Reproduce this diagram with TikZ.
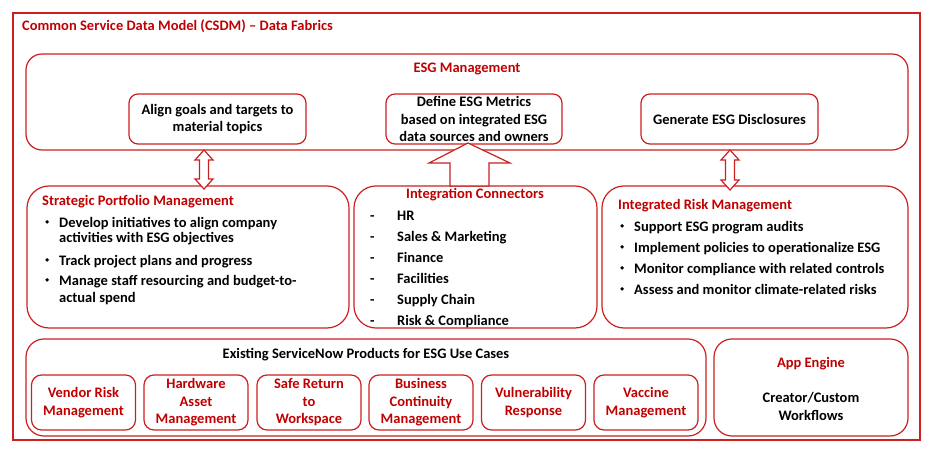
\documentclass[tikz,border=0pt]{standalone}
\usepackage{fontspec}
\setmainfont{Carlito}
\definecolor{cred}{RGB}{192,0,0}
\definecolor{bred}{RGB}{204,32,32}
\newcommand\smbul{\raisebox{0.45ex}{\tikz\fill (0,0) circle (1.9pt);}}
\begin{document}
\begin{tikzpicture}[x=1pt,y=-1pt,
  font=\fontsize{14.5}{17.5}\selectfont\bfseries,
  box/.style={draw=bred, line width=1.2pt, rounded corners=#1, inner sep=0pt, align=center},
  sbox/.style={box=10pt, minimum width=104pt, minimum height=55pt, text=cred},
  rtitle/.style={text=cred, inner sep=0pt},
  txt/.style={inner sep=0pt, anchor=base west},
  barrow/.style={draw=bred, line width=1.2pt, fill=white, line join=miter}]
\useasboundingbox (0,0) rectangle (934,457);
% outer frame
\node[draw=bred, line width=1.2pt, minimum width=907pt, minimum height=427pt, inner sep=0pt] (frame) at (466.5,226.5) {};
\node[rtitle, anchor=base west] (ftitle) at (22,31) {Common Service Data Model (CSDM) -- Data Fabrics};
% ESG management
\node[box=16pt, minimum width=882pt, minimum height=96pt] (esg) at (467,102) {};
\node[rtitle, anchor=base] (esgt) at (467,73) {ESG Management};
\node[box=9pt, minimum width=177pt, minimum height=50pt] (align) at (217.5,119) {Align goals and targets to\\material topics};
\node[box=9pt, minimum width=176pt, minimum height=50pt] (define) at (474,119) {Define ESG Metrics\\based on integrated ESG\\data sources and owners};
\node[box=9pt, minimum width=177pt, minimum height=50pt] (gen) at (729.5,119) {Generate ESG Disclosures};
% middle row
\node[box=22pt, minimum width=322pt, minimum height=142pt] (spm) at (188,257) {};
\node[box=22pt, minimum width=243pt, minimum height=142pt] (ic) at (475.5,257) {};
\node[box=22pt, minimum width=306pt, minimum height=142pt] (irm) at (755,257) {};
% SPM text
\node[rtitle, anchor=base west] (spmt) at (42,205) {Strategic Portfolio Management};
\foreach \y/\t [count=\i] in {227/Develop initiatives to align company, 265/Track project plans and progress, 285/Manage staff resourcing and budget-to-}
  {\node[txt] (spmb\i) at (45,\y) {\smbul}; \node[txt] (spml\i) at (59,\y) {\t};}
\node[txt] (spmc1) at (59,243) {activities with ESG objectives};
\node[txt] (spmc2) at (59,302) {actual spend};
% IC text
\node[rtitle, anchor=base] (ict) at (475,199) {Integration Connectors};
\foreach \y/\t [count=\i] in {220/HR, 241/Sales \& Marketing, 262/Finance, 283/Facilities, 304/Supply Chain, 325/Risk \& Compliance}
  {\node[txt] (icd\i) at (370,\y) {-}; \node[txt] (icl\i) at (397,\y) {\t};}
% IRM text
\node[rtitle, anchor=base west] (irmt) at (618,210) {Integrated Risk Management};
\foreach \y/\t [count=\i] in {231/Support ESG program audits, 252/Implement policies to operationalize ESG, 273/Monitor compliance with related controls, 294/Assess and monitor climate-related risks}
  {\node[txt] (irmb\i) at (620,\y) {\smbul}; \node[txt] (irml\i) at (634,\y) {\t};}
% bottom row
\node[box=18pt, minimum width=680pt, minimum height=97pt] (exist) at (366,387.5) {};
\node[inner sep=0pt, anchor=base] (existt) at (366,358) {Existing ServiceNow Products for ESG Use Cases};
\node[sbox] (vrm) at (83.5,402.5) {Vendor Risk\\Management};
\node[sbox] (ham) at (196,402.5) {Hardware\\Asset\\Management};
\node[sbox] (srw) at (309,402.5) {Safe Return\\to\\Workspace};
\node[sbox] (bcm) at (421,402.5) {Business\\Continuity\\Management};
\node[sbox] (vr) at (533.5,402.5) {Vulnerability\\Response};
\node[sbox] (vm) at (646,402.5) {Vaccine\\Management};
\node[box=18pt, minimum width=194pt, minimum height=97pt] (app) at (811,387.5) {};
\node[rtitle, anchor=base] (appt) at (811,367) {App Engine};
\node[inner sep=0pt, anchor=base, align=center] (appw) at (811,420) {Creator/Custom\\Workflows};
% arrows
\draw[barrow] (468,143) -- (510,163) -- (489,163) -- (489,186) -- (450,186) -- (450,163) -- (429,163) -- cycle;
\draw[barrow] (204,150) -- (213,160) -- (208.5,160) -- (208.5,179) -- (213,179) -- (204,189)
  -- (195,179) -- (199.5,179) -- (199.5,160) -- (195,160) -- cycle;
\draw[barrow] (730,150) -- (739,160) -- (734.5,160) -- (734.5,180) -- (739,180) -- (730,190)
  -- (721,180) -- (725.5,180) -- (725.5,160) -- (721,160) -- cycle;
\end{tikzpicture}
\end{document}
